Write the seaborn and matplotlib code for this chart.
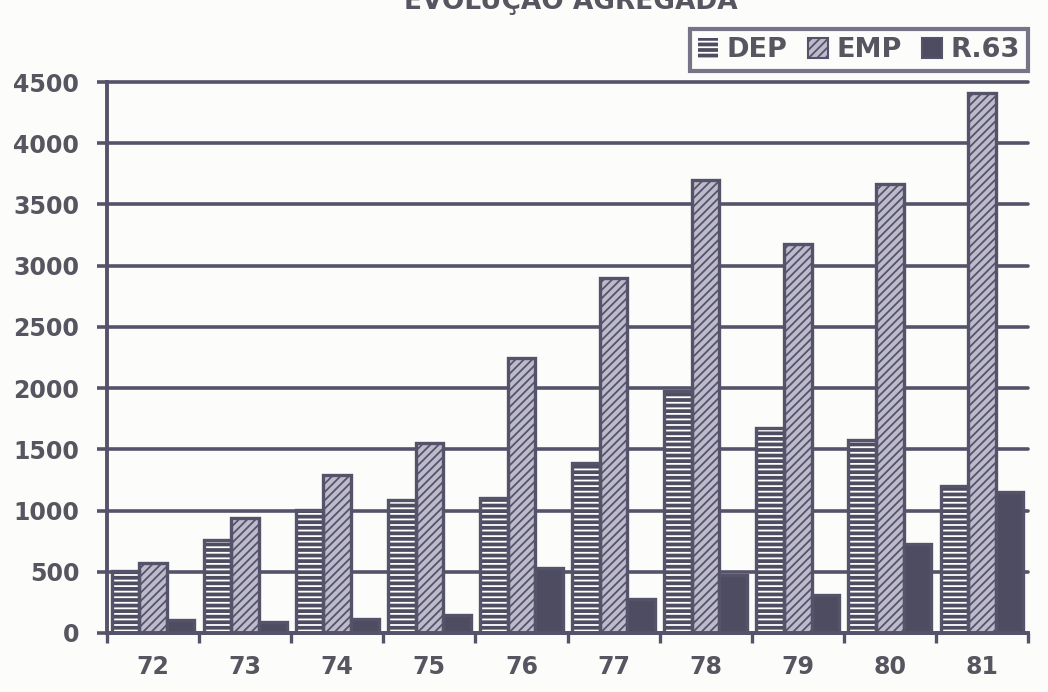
import matplotlib
matplotlib.use("Agg")
import matplotlib.pyplot as plt
from matplotlib.patches import Patch, Rectangle
import seaborn as sns
import pandas as pd

# ---- data ----
years = ["72", "73", "74", "75", "76", "77", "78", "79", "80", "81"]
dep = [505, 760, 1005, 1085, 1105, 1390, 1975, 1675, 1580, 1200]
emp = [575, 940, 1290, 1555, 2245, 2900, 3700, 3180, 3670, 4410]
r63 = [108, 88, 118, 145, 530, 280, 472, 310, 728, 1152]
series = ["DEP", "EMP", "R.63"]
yticks = [0, 500, 1000, 1500, 2000, 2500, 3000, 3500, 4000, 4500]
title = "EVOLUÇÃO AGREGADA"

df = pd.DataFrame({
    "ano": years * 3,
    "serie": [series[0]] * len(years) + [series[1]] * len(years) + [series[2]] * len(years),
    "valor": dep + emp + r63,
})

INK = "#55536a"
TXT = "#57555f"
DARK = "#4e4c61"
LIGHT = "#bdbbcb"
BG = "#fcfcfa"

sns.set_theme(style="white")
plt.rcParams["font.family"] = ["DejaVu Sans"]
plt.rcParams["hatch.linewidth"] = 1.3

fig = plt.figure(figsize=(10.48, 6.92), dpi=100, facecolor=BG)
ax = fig.add_axes([107 / 1048, 1 - 633 / 692, (1028 - 107) / 1048, (633 - 82) / 692])
ax.set_facecolor(BG)

sns.barplot(data=df, x="ano", y="valor", hue="serie", order=years, hue_order=series,
            width=0.9, dodge=True, ax=ax, legend=False, saturation=1)

styles = [
    dict(facecolor=DARK, edgecolor="white", hatch="---", linewidth=0),
    dict(facecolor=LIGHT, edgecolor=INK, hatch="////", linewidth=2.4),
    dict(facecolor=DARK, edgecolor=INK, hatch=None, linewidth=2.4),
]
for cont, st in zip(ax.containers, styles):
    for p in cont.patches:
        p.set_facecolor(st["facecolor"])
        p.set_edgecolor(st["edgecolor"])
        p.set_linewidth(st["linewidth"])
        if st["hatch"]:
            p.set_hatch(st["hatch"])
        p.set_zorder(3)
        if st["linewidth"] == 0:
            ax.add_patch(Rectangle((p.get_x(), p.get_y()), p.get_width(), p.get_height(),
                                   fill=False, edgecolor=INK, linewidth=2.4, zorder=4))

ax.set_ylim(0, 4500)
ax.set_xlim(-0.5, len(years) - 0.5)
ax.set_yticks(yticks)
ax.set_yticklabels([str(v) for v in yticks])
ax.set_xlabel("")
ax.set_ylabel("")

ax.yaxis.grid(True, color=INK, linewidth=2.6)
ax.xaxis.grid(False)
ax.set_axisbelow(True)
for gl in ax.get_ygridlines():
    gl.set_clip_on(False)

for s in ["top", "right"]:
    ax.spines[s].set_visible(False)
for s in ["left", "bottom"]:
    ax.spines[s].set_color(INK)
    ax.spines[s].set_linewidth(2.8)
    ax.spines[s].set_zorder(5)

ax.tick_params(axis="y", which="major", left=True, length=7, width=2.6, color=INK,
               pad=13, labelsize=17, labelcolor=TXT)
for t in ax.get_yticklabels():
    t.set_fontweight("bold")

ax.set_xticks([i + 0.5 for i in range(-1, len(years))], minor=True)
ax.tick_params(axis="x", which="minor", bottom=True, length=7, width=2.4, color=INK)
ax.tick_params(axis="x", which="major", bottom=False, length=0, pad=16,
               labelsize=17, labelcolor=TXT)
for t in ax.get_xticklabels():
    t.set_fontweight("bold")

fig.text(571 / 1048, 1 - 9 / 692, title, ha="center", va="baseline",
         fontsize=19, fontweight="bold", color=TXT)

handles = [Patch(**{k: v for k, v in st.items() if k != "linewidth"}, linewidth=0 if i == 0 else 1.5)
           for i, st in enumerate(styles)]
leg = fig.legend(handles, series, loc="upper left", bbox_to_anchor=(690 / 1048, 1 - 29 / 692),
                 ncol=3, frameon=True, fancybox=False, handlelength=0.75, handleheight=0.75,
                 handletextpad=0.3, columnspacing=0.75, borderpad=0.3, borderaxespad=0,
                 prop=dict(size=19.5, weight="bold"))
leg.get_frame().set_edgecolor(INK)
leg.get_frame().set_linewidth(3)
leg.get_frame().set_facecolor(BG)
for t in leg.get_texts():
    t.set_color(TXT)

fig.savefig("out.png", dpi=100, facecolor=BG)
